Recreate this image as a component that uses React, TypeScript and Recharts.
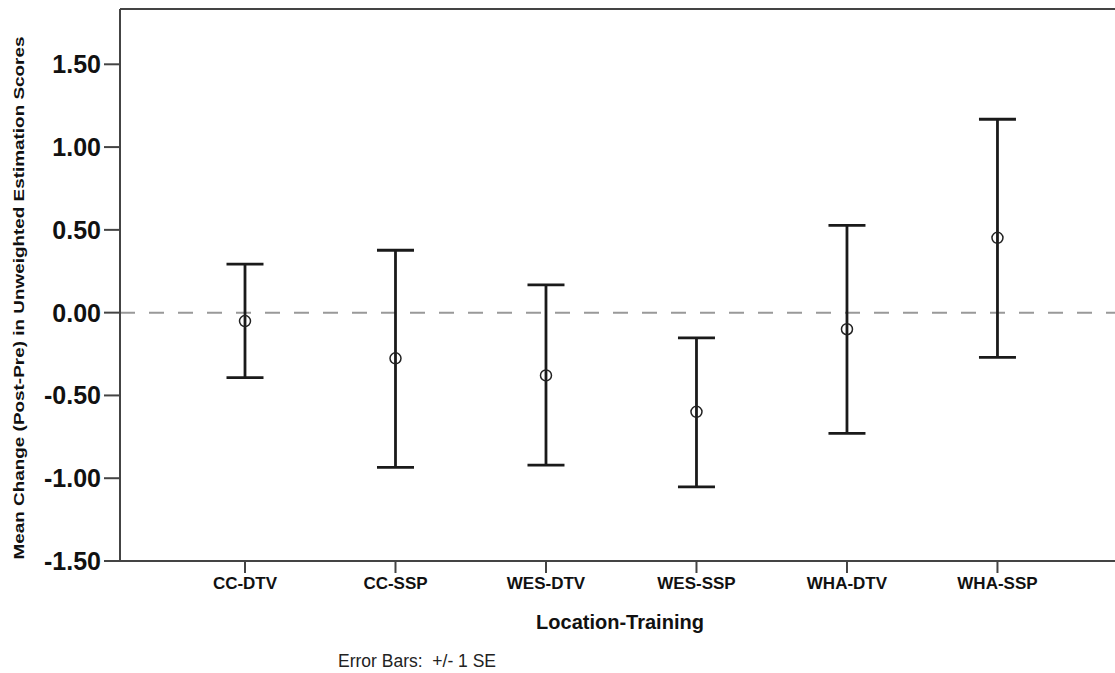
import React from "react";
import {
  ScatterChart,
  Scatter,
  ErrorBar,
  XAxis,
  YAxis,
  ReferenceLine,
  Label,
} from "recharts";

// ── Data ──────────────────────────────────────────────────────

const CATEGORIES = ["CC-DTV", "CC-SSP", "WES-DTV", "WES-SSP", "WHA-DTV", "WHA-SSP"];
const MEANS = [-0.051, -0.276, -0.379, -0.599, -0.1, 0.452];
const UPPER = [0.293, 0.377, 0.168, -0.152, 0.527, 1.168];
const LOWER = [-0.393, -0.934, -0.921, -1.052, -0.729, -0.27];
const Y_TICKS = [-1.5, -1.0, -0.5, 0.0, 0.5, 1.0, 1.5];

const Y_MAX = 1.834;
const AXIS_COLOR = "#444";
const FONT = "'Liberation Sans', Arial, sans-serif";

const data = CATEGORIES.map((name, i) => ({
  x: i,
  name,
  mean: MEANS[i],
  err: [MEANS[i] - LOWER[i], UPPER[i] - MEANS[i]],
}));

function HollowDot(props: any) {
  const { cx, cy } = props;
  if (cx == null || cy == null) return null;
  return <circle cx={cx} cy={cy} r={5.5} fill="none" stroke="#222" strokeWidth={1.5} />;
}

export default function App() {
  return (
    <div style={{ position: "absolute", left: 0, top: 0, background: "#fff" }}>
      <ScatterChart
        width={1115}
        height={673}
        margin={{ top: 9, right: 0, bottom: 52, left: 20 }}
      >
        <XAxis
          type="number"
          dataKey="x"
          domain={[-0.8306, 5.781]}
          ticks={[0, 1, 2, 3, 4, 5]}
          tickFormatter={(v: number) => CATEGORIES[v] ?? ""}
          height={60}
          axisLine={{ stroke: AXIS_COLOR, strokeWidth: 2 }}
          tickLine={{ stroke: AXIS_COLOR, strokeWidth: 2 }}
          tickSize={12}
          tickMargin={4}
          tick={{ fill: "#111", fontSize: 17, fontWeight: "bold", fontFamily: FONT }}
          interval={0}
          allowDataOverflow
        >
          <Label
            content={() => (
              <text
                x={620}
                y={629}
                textAnchor="middle"
                fontFamily={FONT}
                fontWeight="bold"
                fontSize={20}
                fill="#111"
              >
                Location-Training
              </text>
            )}
          />
        </XAxis>
        <YAxis
          type="number"
          dataKey="mean"
          domain={[-1.5, Y_MAX]}
          ticks={Y_TICKS}
          tickFormatter={(v: number) => v.toFixed(2)}
          width={100}
          axisLine={{ stroke: AXIS_COLOR, strokeWidth: 2 }}
          tickLine={{ stroke: AXIS_COLOR, strokeWidth: 2 }}
          tickSize={16}
          tickMargin={3}
          tick={{ fill: "#111", fontSize: 25, fontWeight: "bold", fontFamily: FONT }}
          allowDataOverflow
        >
          <Label
            content={() => (
              <text
                x={18}
                y={298}
                transform="rotate(-90 18 298)"
                textAnchor="middle"
                dominantBaseline="central"
                fontFamily={FONT}
                fontWeight="bold"
                fontSize={15.5}
                fill="#111"
                textLength={523}
                lengthAdjust="spacingAndGlyphs"
              >
                Mean Change (Post-Pre) in Unweighted Estimation Scores
              </text>
            )}
          />
        </YAxis>
        <ReferenceLine y={Y_MAX} stroke={AXIS_COLOR} strokeWidth={2} ifOverflow="visible" />
        <ReferenceLine y={0} stroke="#999" strokeWidth={2} strokeDasharray="15 14" />
        <Scatter data={data} shape={<HollowDot />} isAnimationActive={false}>
          <ErrorBar
            dataKey="err"
            direction="y"
            width={18.5}
            stroke="#1a1a1a"
            strokeWidth={2.8}
            isAnimationActive={false}
          />
        </Scatter>
      </ScatterChart>
      <div
        style={{
          position: "absolute",
          left: 338,
          top: 651,
          fontFamily: FONT,
          fontSize: 17.5,
          color: "#222",
          whiteSpace: "pre",
          lineHeight: "20px",
        }}
      >
        {"Error Bars:  +/- 1 SE"}
      </div>
    </div>
  );
}
